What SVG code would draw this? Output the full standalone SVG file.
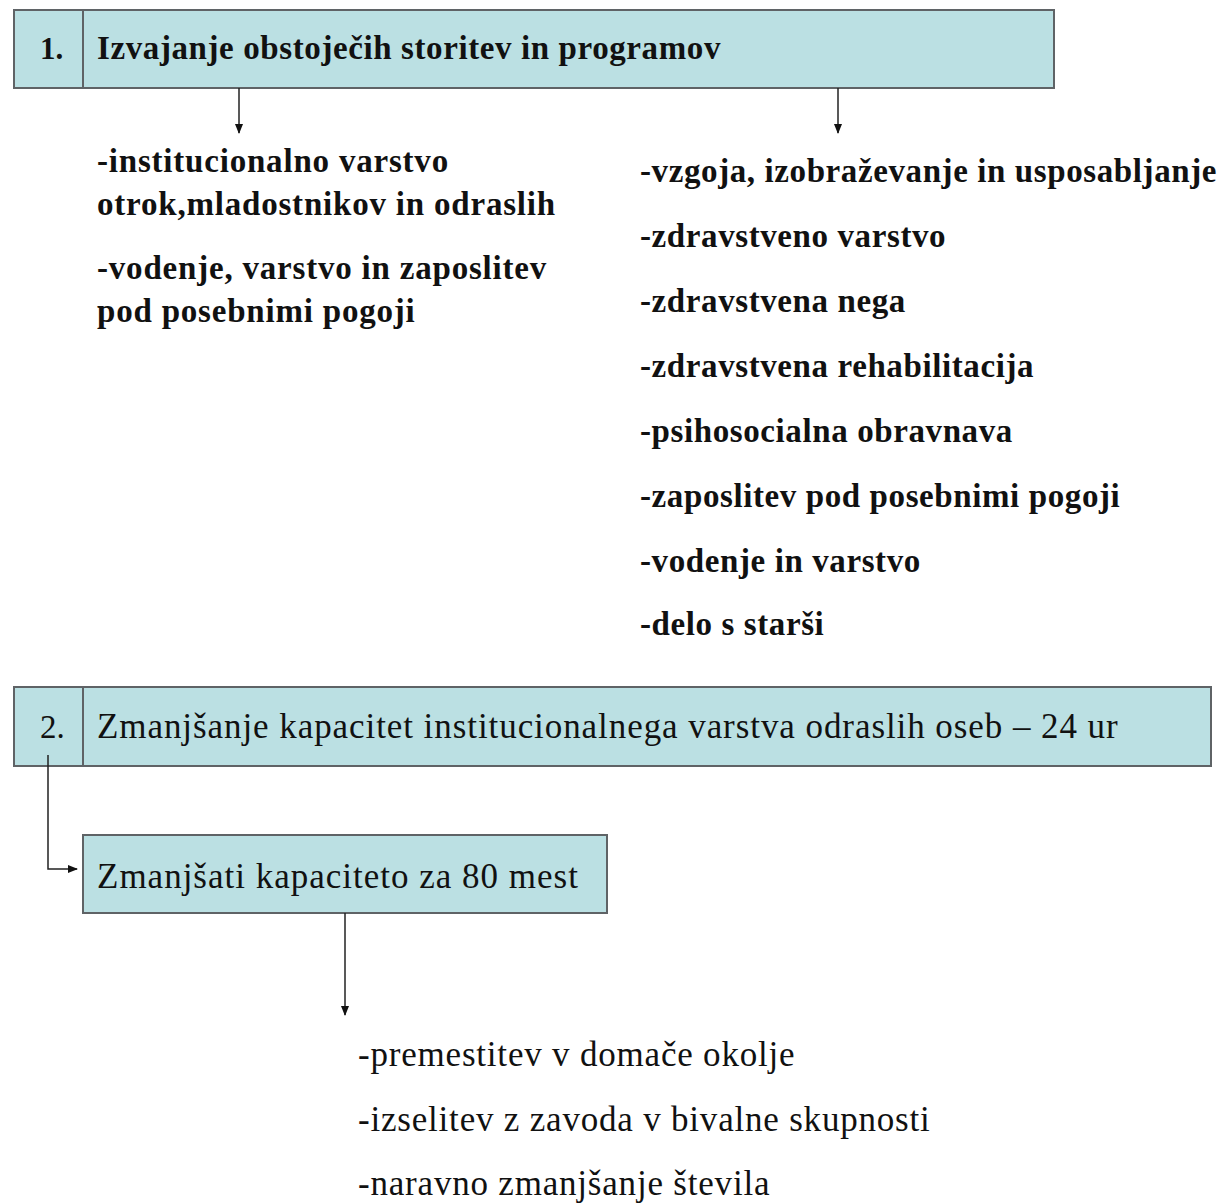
<svg xmlns="http://www.w3.org/2000/svg" width="1229" height="1204" viewBox="0 0 1229 1204">
<style>
.box{fill:#bbe0e3;stroke:#5f6366;stroke-width:2}
.div{stroke:#5f6366;stroke-width:2}
.b{font-family:"Liberation Serif",serif;font-weight:bold;fill:#111}
.r{font-family:"Liberation Serif",serif;fill:#111}
.c{stroke:#222;stroke-width:1.5;fill:none}
</style>
<defs>
<marker id="ah" markerWidth="10" markerHeight="10" refX="9" refY="5" orient="auto" markerUnits="userSpaceOnUse">
<path d="M0,1 L10,5 L0,9 Z" fill="#111"/>
</marker>
</defs>
<rect width="1229" height="1204" fill="#fff"/>
<g id="node1">
<rect class="box" x="14" y="10" width="1040" height="78"/>
<line class="div" x1="83" y1="10" x2="83" y2="88"/>
<text class="b" x="40" y="59" font-size="31">1.</text>
<text class="b" x="97" y="59" font-size="33" letter-spacing="0.6">Izvajanje obstoječih storitev in programov</text>
</g>
<g id="list1a" class="b" font-size="33" letter-spacing="0.8">
<text x="97" y="172">-institucionalno varstvo</text>
<text x="97" y="215">otrok,mladostnikov in odraslih</text>
<text x="97" y="279">-vodenje, varstvo in zaposlitev</text>
<text x="97" y="322">pod posebnimi pogoji</text>
</g>
<g id="list1b" class="b" font-size="33" letter-spacing="0.6">
<text x="640" y="182">-vzgoja, izobraževanje in usposabljanje</text>
<text x="640" y="247">-zdravstveno varstvo</text>
<text x="640" y="312">-zdravstvena nega</text>
<text x="640" y="377">-zdravstvena rehabilitacija</text>
<text x="640" y="442">-psihosocialna obravnava</text>
<text x="640" y="507">-zaposlitev pod posebnimi pogoji</text>
<text x="640" y="572">-vodenje in varstvo</text>
<text x="640" y="635">-delo s starši</text>
</g>
<g id="node2">
<rect class="box" x="14" y="687" width="1197" height="79"/>
<line class="div" x1="83" y1="687" x2="83" y2="766"/>
<text class="r" x="40" y="738" font-size="33">2.</text>
<text class="r" x="97" y="738" font-size="35" letter-spacing="0.93">Zmanjšanje kapacitet institucionalnega varstva odraslih oseb – 24 ur</text>
</g>
<g id="node3">
<rect class="box" x="83" y="835" width="524" height="78"/>
<text class="r" x="97" y="888" font-size="35" letter-spacing="1">Zmanjšati kapaciteto za 80 mest</text>
</g>
<g id="list3" class="r" font-size="35" letter-spacing="0.8">
<text x="358" y="1066">-premestitev v domače okolje</text>
<text x="358" y="1131">-izselitev z zavoda v bivalne skupnosti</text>
<text x="358" y="1195">-naravno zmanjšanje števila</text>
</g>
<g id="connectors">
<line class="c" x1="239" y1="88" x2="239" y2="133" marker-end="url(#ah)"/>
<line class="c" x1="838" y1="88" x2="838" y2="133" marker-end="url(#ah)"/>
<polyline class="c" points="48,755 48,869 77,869" marker-end="url(#ah)"/>
<line class="c" x1="345" y1="913" x2="345" y2="1015" marker-end="url(#ah)"/>
</g>
</svg>
